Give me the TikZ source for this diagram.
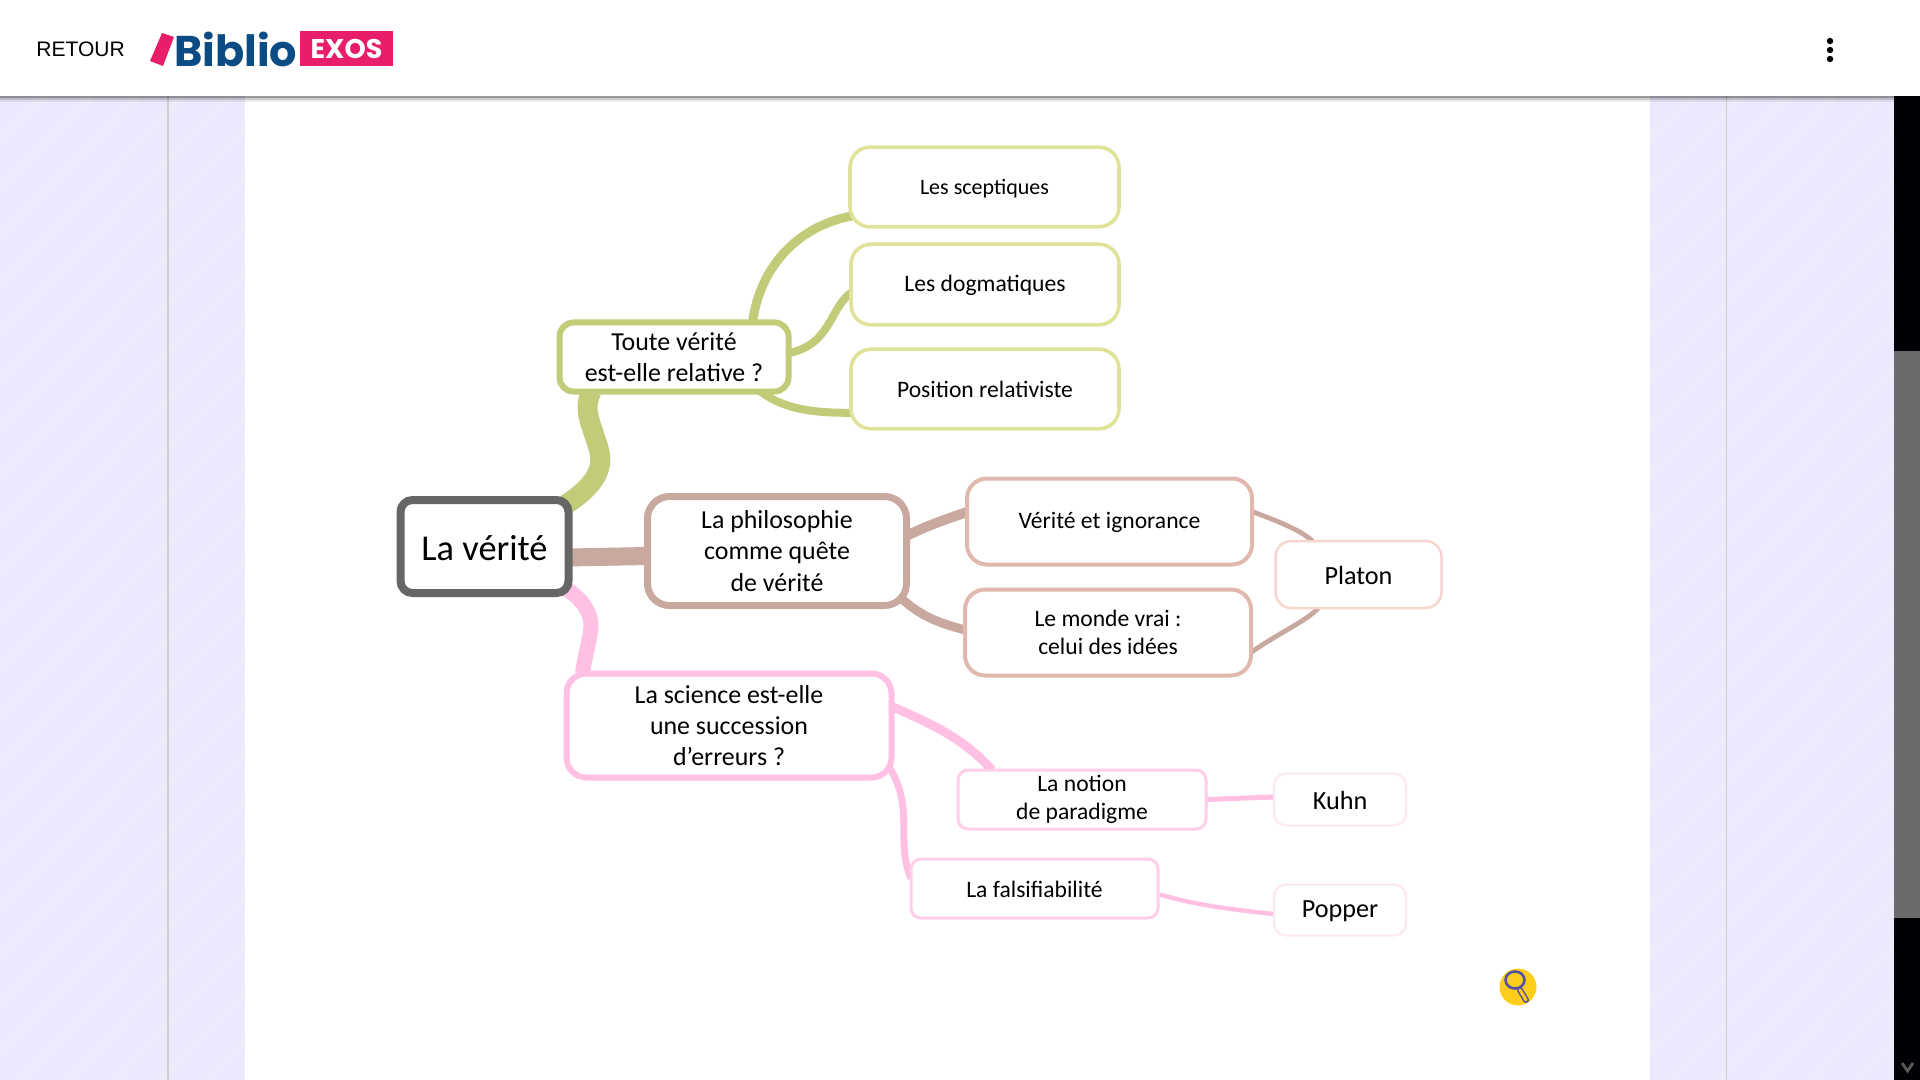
\documentclass[tikz,border=0pt]{standalone}
\usepackage{fontspec}
\setmainfont{Carlito}
\newfontfamily\arialf{Liberation Sans}
\newfontfamily\logof{Poppins}
\usetikzlibrary{calc,backgrounds}
\definecolor{bandc}{HTML}{EDE8FD}
\definecolor{stripec}{HTML}{F0EBFC}
\definecolor{rulec}{HTML}{CDCDCD}
\definecolor{oliveA}{HTML}{C2CB78}
\definecolor{oliveB}{HTML}{DFE39A}
\definecolor{tanA}{HTML}{C8A89F}
\definecolor{tanB}{HTML}{E0B8AE}
\definecolor{tanC}{HTML}{F6D6CE}
\definecolor{pinkA}{HTML}{FFC0E4}
\definecolor{pinkB}{HTML}{FFCFEA}
\definecolor{pinkC}{HTML}{FFE6F3}
\definecolor{rootc}{HTML}{666666}
\definecolor{logopink}{HTML}{E91E6B}
\definecolor{logoblue}{HTML}{0B4C84}
\definecolor{loupe}{HTML}{FFCE1C}
\definecolor{loupeink}{HTML}{5450A8}
\tikzset{
  mm/.style={draw,fill=white,inner sep=0pt,outer sep=0pt,align=center,text=black},
  rootbox/.style={mm,draw=rootc,line width=4pt,rounded corners=6pt,font=\fontsize{18.2}{22}\selectfont,execute at begin node={\rule{0pt}{14pt}}},
  lvlA/.style={mm,line width=3pt,font=\fontsize{12.95}{15.7}\selectfont,execute at begin node={\rule{0pt}{10.6pt}}},
  lvlB/.style={mm,line width=1.8pt,rounded corners=10pt,font=\fontsize{11.8}{14}\selectfont,execute at begin node={\rule{0pt}{8.9pt}}},
  lvlC/.style={mm,rounded corners=8pt,font=\fontsize{13.1}{15.5}\selectfont,execute at begin node={\rule{0pt}{9.9pt}}},
  link/.style={line cap=butt},
}
\begin{document}
\begin{tikzpicture}[x=0.5pt,y=-0.5pt]
\useasboundingbox (0,0) rectangle (1920,1080);

% nodes of the mind map
\node[rootbox,minimum width=84pt,minimum height=46.5pt] (verite) at (484.5,546.5) {La vérité};
\node[lvlA,draw=oliveA,rounded corners=7pt,minimum width=114.5pt,minimum height=34.5pt] (toute) at (674,357) {Toute vérité\\est-elle relative ?};
\node[lvlA,draw=tanA,line width=3.5pt,rounded corners=11pt,minimum width=129.5pt,minimum height=54.5pt] (philo) at (777,551) {La philosophie\\comme quête\\de vérité};
\node[lvlA,draw=pinkA,rounded corners=10pt,minimum width=162.5pt,minimum height=52pt] (science) at (729,725.5) {La science est-elle\\une succession\\d’erreurs ?};
\node[lvlB,draw=oliveB,minimum width=134.5pt,minimum height=39.8pt,font=\fontsize{11}{14}\selectfont] (scept) at (984.5,187) {Les sceptiques};
\node[lvlB,draw=oliveB,minimum width=134pt,minimum height=40.3pt] (dogm) at (985,284.5) {Les dogmatiques};
\node[lvlB,draw=oliveB,minimum width=134pt,minimum height=39.8pt] (pos) at (985,389) {Position relativiste};
\node[lvlB,draw=tanB,line width=2pt,minimum width=142.5pt,minimum height=43pt] (verign) at (1109.5,521.5) {Vérité et ignorance};
\node[lvlB,draw=tanB,line width=2pt,minimum width=143pt,minimum height=43pt] (monde) at (1108,632.5) {Le monde vrai :\\celui des idées};
\node[lvlC,draw=tanC,line width=1.25pt,minimum width=83pt,minimum height=33.5pt] (platon) at (1358.5,574.5) {Platon};
\node[lvlB,draw=pinkB,line width=1.5pt,rounded corners=5pt,minimum width=124pt,minimum height=29.5pt] (notion) at (1082,799.5) {La notion\\de paradigme};
\node[lvlC,draw=pinkC,line width=1pt,rounded corners=6pt,minimum width=66pt,minimum height=26pt] (kuhn) at (1340,799.5) {Kuhn};
\node[lvlB,draw=pinkB,line width=1.5pt,rounded corners=5pt,minimum width=123.5pt,minimum height=29.5pt] (falsif) at (1034.5,888.5) {La falsifiabilité};
\node[lvlC,draw=pinkC,line width=1pt,rounded corners=6pt,minimum width=66pt,minimum height=25.5pt] (popper) at (1340,910) {Popper};

\begin{pgfonlayer}{background}
  % page
  \fill[white] (0,0) rectangle (1920,1080);
  \fill[bandc] (0,96) rectangle (245,1080);
  \fill[bandc] (1650,96) rectangle (1894,1080);
  \begin{scope}
    \clip (0,96) rectangle (245,1080);
    \foreach \s in {96,144,...,1344}
      \draw[stripec,line width=4pt] (-5,\s) .. controls (60,\s-60) and (170,\s-180) .. (250,\s-260);
  \end{scope}
  \begin{scope}
    \clip (1650,96) rectangle (1894,1080);
    \foreach \s in {96,144,...,1344}
      \draw[stripec,line width=4pt] (1645,\s) .. controls (1710,\s-60) and (1820,\s-180) .. (1900,\s-260);
  \end{scope}
  \draw[rulec,line width=0.6pt] (168,96) -- (168,1080);
  \draw[rulec,line width=0.6pt] (1726.5,96) -- (1726.5,1080);
  % scrollbar
  \fill[black!98!blue] (1894,96) rectangle (1920,1080);
  \fill[black!58] (1894,351) rectangle (1920,918);
  \draw[black!65,line width=1.4pt] (1902,1063) -- (1907.5,1071) -- (1913,1063);
  % connectors
  \begin{scope}[link]
  \draw[oliveA,line width=10pt] ($(verite.north east)+(-8,8)$) .. controls (590,490) and (605,472) .. (599,450) .. controls (592,425) and (582,410) .. ($(toute.south west)+(32,0)$);
  \draw[oliveA,line width=4.5pt] ($(toute.north west)+(193,0)$) .. controls (760,265) and (800,225) .. ($(scept.south west)+(3,-11)$);
  \draw[oliveA,line width=4pt] ($(toute.east)+(0,-4)$) .. controls (832,345) and (830,305) .. ($(dogm.west)+(2,7)$);
  \draw[oliveA,line width=4pt] ($(toute.south east)+(-28,0)$) .. controls (785,410) and (815,413) .. ($(pos.south west)+(2,-16)$);
  \draw[tanA,line width=9pt] ($(verite.east)+(0,11)$) -- ($(philo.west)+(0,5)$);
  \draw[tanA,line width=5pt] ($(philo.east)+(0,-15)$) .. controls (926,526) and (949,518) .. ($(verign.west)+(2,-10)$);
  \draw[tanA,line width=4.5pt] ($(philo.south east)+(-6,-8)$) .. controls (922,618) and (943,624) .. ($(monde.west)+(2,-2)$);
  \draw[tanA,line width=2.4pt] ($(verign.east)+(0,-10)$) .. controls (1280,522) and (1300,530) .. ($(platon.north west)+(37,0)$);
  \draw[tanA,line width=2.4pt] ($(monde.east)+(0,20)$) .. controls (1280,632) and (1305,622) .. ($(platon.south west)+(43,0)$);
  \draw[pinkA,line width=7.5pt] ($(verite.south east)+(-8,-8)$) .. controls (585,600) and (594,615) .. (590,635) .. controls (587,650) and (584,662) .. ($(science.north west)+(16,0)$);
  \draw[pinkA,line width=4.5pt] ($(science.east)+(0,-19)$) .. controls (935,725) and (965,740) .. ($(notion.north west)+(34,0)$);
  \draw[pinkA,line width=3.5pt] ($(science.south east)+(-2,-10)$) .. controls (915,810) and (895,840) .. ($(falsif.west)+(0,-10)$);
  \draw[pinkA,line width=2.5pt] (notion.east) -- ($(kuhn.west)+(0,-2.5)$);
  \draw[pinkA,line width=2.2pt] ($(falsif.east)+(2,6)$) .. controls (1195,905) and (1235,910) .. ($(popper.west)+(0,4)$);
  \end{scope}
\end{pgfonlayer}

% loupe
\fill[loupe] (1518,987) circle[radius=18.5];
\draw[loupeink,line width=1.3pt] (1515,980) ellipse[x radius=9.5,y radius=8.5];
\draw[loupeink,line width=3pt,line cap=round] (1520,990) -- (1526,1000);
\draw[loupe,line width=1.5pt,line cap=round] (1520,990) -- (1526,1000);

% header
\fill[black,opacity=.4] (0,96) rectangle (1920,98);
\fill[black,opacity=.2] (0,98) rectangle (1920,100);
\fill[black,opacity=.07] (0,100) rectangle (1920,102);
\fill[white] (0,0) rectangle (1920,96);
\node[font=\arialf\fontsize{10.5}{12}\selectfont,inner sep=0pt,anchor=west] (retour) at (36,49.5) {RETOUR};
\fill[logopink] (162,33) -- (174,37) -- (163,66) -- (150,61) -- cycle;
\node[font=\logof\bfseries\fontsize{21.5}{24}\selectfont,text=logoblue,inner sep=0pt,anchor=base west] (biblio) at (174,66.5) {Biblio};
\node[fill=logopink,minimum width=46.5pt,minimum height=17.5pt,inner sep=0pt,outer sep=0pt,text=white,font=\logof\bfseries\fontsize{13.5}{15}\selectfont] (exos) at (346.5,49) {EXOS};
\foreach \yy in {41,50,59} \fill[black] (1830,\yy) circle[radius=3.2];
\end{tikzpicture}
\end{document}
